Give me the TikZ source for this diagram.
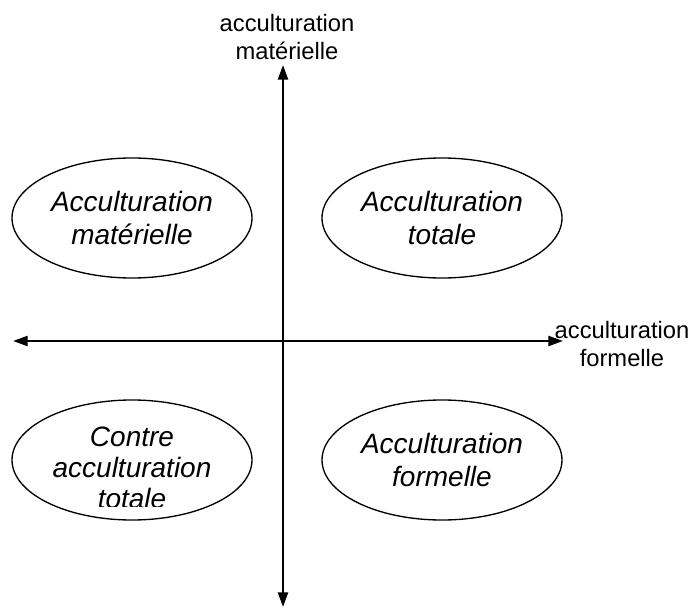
\documentclass[tikz,border=0pt]{standalone}
\usepackage{fontspec}
\setmainfont{Liberation Sans}
\usetikzlibrary{shapes.geometric,arrows.meta}
\tikzset{
  quadrant/.style={draw, ellipse, line width=1pt, minimum width=180pt, minimum height=90pt, inner sep=0pt, align=center, font=\fontsize{21}{24.5}\selectfont\itshape},
  axislabel/.style={align=center, font=\fontsize{17.8}{20.5}\selectfont},
}
\begin{document}
\begin{tikzpicture}[x=0.75pt, y=-0.75pt, line join=round, >={Triangle[length=11pt,width=7.5pt]}]
  \useasboundingbox (0,0) rectangle (693,610);
  \def\ox{283}\def\oy{341}
  % axes
  \coordinate (xl) at (13,\oy);  \coordinate (xr) at (563,\oy);
  \coordinate (yt) at (\ox,65);  \coordinate (yb) at (\ox,607);
  \draw[line width=1.7pt, <->] (xl) -- (xr);
  \draw[line width=1.7pt, <->] (yb) -- (yt);
  \node[axislabel] (ylab) at (287,37) {acculturation\\mat\'erielle};
  \node[axislabel] (xlab) at (622,344) {acculturation\\formelle};
  % quadrants
  \node[quadrant] (materielle) at (132,218) {Acculturation\\mat\'erielle};
  \node[quadrant] (totale) at (442,218) {Acculturation\\totale};
  \node[quadrant] (formelle) at (442,460) {Acculturation\\formelle};
  \node[quadrant] (contre) at (132,460) {};
  \begin{scope}
    \clip (0,0) rectangle (693,506);
    \node[align=center, font=\fontsize{21}{23.3}\selectfont\itshape] (contretxt) at (132,468) {Contre\\acculturation\\totale};
  \end{scope}
\end{tikzpicture}
\end{document}
